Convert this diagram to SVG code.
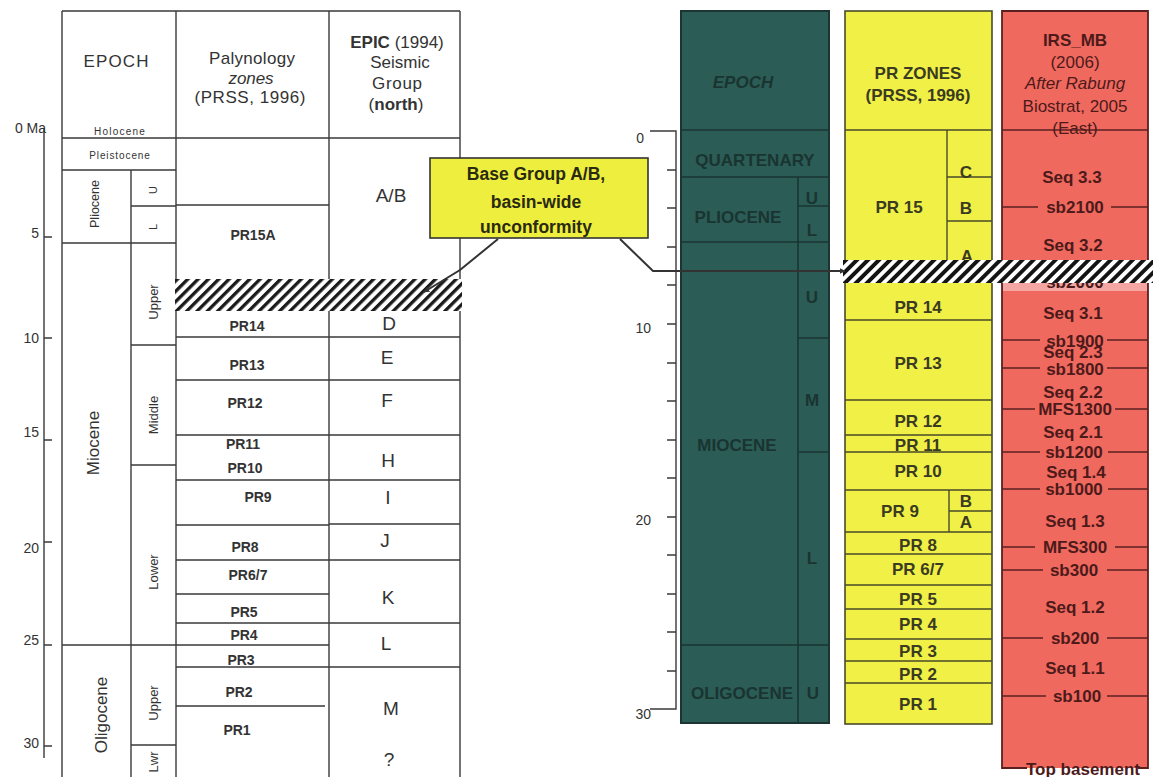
<svg xmlns="http://www.w3.org/2000/svg" width="1155" height="777" viewBox="0 0 1155 777">
<style>
text{font-family:"Liberation Sans",Arial,sans-serif;text-anchor:middle}
.ln{stroke:#3a3a3a;stroke-width:1.4;fill:none}
.tl{fill:#333}
.hd{font-size:17px}
.sm{font-size:10px}
.rot{dominant-baseline:central}
.pz{font-size:14px;font-weight:bold;fill:#333}
.ep{font-size:19px;fill:#333}
.ax{font-size:14px;fill:#333;text-anchor:end}
.tealc{fill:#2b5c56;stroke:#1a3532;stroke-width:2}
.tln{stroke:#1a3532;stroke-width:1.6;fill:none}
.tt{font-size:17px;font-weight:bold;fill:#1a3431}
.yc{fill:#f0f046;stroke:#4a4a2a;stroke-width:1.6}
.yln{stroke:#4a4a2a;stroke-width:1.4;fill:none}
.yt{font-size:17px;font-weight:bold;fill:#3b3b22}
.rc{fill:#f0695f;stroke:#5a2020;stroke-width:1.8}
.rln{stroke:#5a2020;stroke-width:1.4;fill:none}
.rt{font-size:17px;font-weight:bold;fill:#4d1a1a}
.rh{font-size:17px;fill:#4d1a1a}
.cn{stroke:#333;stroke-width:2;fill:none}
</style>
<defs>
<pattern id="hatchL" patternUnits="userSpaceOnUse" width="7.3" height="7.3" patternTransform="rotate(45)">
<rect width="7.3" height="7.3" fill="#fff"/><rect width="3.3" height="7.3" fill="#1a1a1a"/>
</pattern>
<pattern id="hatchR" patternUnits="userSpaceOnUse" width="7.8" height="7.8" patternTransform="rotate(45)">
<rect width="7.8" height="7.8" fill="#fff"/><rect width="3.9" height="7.8" fill="#141414"/>
</pattern>
<marker id="arr" viewBox="0 0 10 10" refX="9" refY="5" markerWidth="6" markerHeight="6" orient="auto" markerUnits="userSpaceOnUse">
<path d="M0,0 L10,5 L0,10 z" fill="#333"/>
</marker>
</defs>
<rect width="1155" height="777" fill="#fff"/>

<!-- Left axis -->
<g id="left-axis">
<path class="ln" d="M44,128 V758 M44,237 H52 M44,338 H52 M44,440 H52 M44,542 H52 M44,645 H52 M44,746 H52"/>
<text class="ax" x="46" y="133">0 Ma</text>
<text class="ax" x="39" y="238">5</text>
<text class="ax" x="39" y="343">10</text>
<text class="ax" x="39" y="437">15</text>
<text class="ax" x="39" y="553">20</text>
<text class="ax" x="39" y="645">25</text>
<text class="ax" x="39" y="748">30</text>
</g>

<!-- Left table -->
<g id="left-table">
<path class="ln" d="M62,11 H460 M62,11 V777 M176,11 V777 M329,11 V777 M460,11 V777 M62,138 H460 M62,170 H176 M131,170 V777 M131,206 H176 M62,243 H176 M131,345 H176 M131,465 H176 M62,645 H329 M131,745 H176"/>
<path class="ln" d="M176,205 H329 M176,337 H460 M176,380 H460 M176,435 H460 M176,480 H460 M176,525 H329 M329,524 H460 M176,560 H460 M176,594 H329 M176,623 H460 M176,667 H460 M176,706 H325"/>
</g>
<g id="left-headers">
<text class="tl hd" x="116" y="67" textLength="65" lengthAdjust="spacing">EPOCH</text>
<text class="tl hd" x="252" y="64" textLength="86" lengthAdjust="spacing">Palynology</text>
<text class="tl hd" x="251" y="84" font-style="italic" textLength="45" lengthAdjust="spacing">zones</text>
<text class="tl hd" x="250" y="103" textLength="111" lengthAdjust="spacing">(PRSS, 1996)</text>
<text class="tl hd" x="397" y="48"><tspan font-weight="bold">EPIC</tspan> (1994)</text>
<text class="tl hd" x="400" y="68">Seismic</text>
<text class="tl hd" x="397" y="89" textLength="50" lengthAdjust="spacing">Group</text>
<text class="tl hd" x="396" y="110">(<tspan font-weight="bold">north</tspan>)</text>
</g>
<g id="left-epochs">
<text class="tl sm" x="120" y="135" letter-spacing="1.2">Holocene</text>
<text class="tl sm" x="120" y="159" letter-spacing="0.9">Pleistocene</text>
<text class="tl rot" font-size="12.5" transform="translate(95,204) rotate(-90)">Pliocene</text>
<text class="tl rot" font-size="11" transform="translate(153,190) rotate(-90)">U</text>
<text class="tl rot" font-size="11" transform="translate(153,227) rotate(-90)">L</text>
<text class="tl rot" font-size="17" transform="translate(93,443) rotate(-90)">Miocene</text>
<text class="tl rot" font-size="13" transform="translate(153,302) rotate(-90)">Upper</text>
<text class="tl rot" font-size="13" transform="translate(153,415) rotate(-90)">Middle</text>
<text class="tl rot" font-size="13" transform="translate(153,572) rotate(-90)">Lower</text>
<text class="tl rot" font-size="17" transform="translate(101,715) rotate(-90)">Oligocene</text>
<text class="tl rot" font-size="13" transform="translate(153,703) rotate(-90)">Upper</text>
<text class="tl rot" font-size="13" transform="translate(153,762) rotate(-90)">Lwr</text>
</g>
<g id="left-zones">
<text class="pz" x="253" y="240">PR15A</text>
<text class="pz" x="247" y="331">PR14</text>
<text class="pz" x="247" y="370">PR13</text>
<text class="pz" x="245" y="408">PR12</text>
<text class="pz" x="243" y="449">PR11</text>
<text class="pz" x="245" y="473">PR10</text>
<text class="pz" x="258" y="502">PR9</text>
<text class="pz" x="245" y="552">PR8</text>
<text class="pz" x="248" y="580">PR6/7</text>
<text class="pz" x="244" y="617">PR5</text>
<text class="pz" x="244" y="640">PR4</text>
<text class="pz" x="241" y="665">PR3</text>
<text class="pz" x="239" y="697">PR2</text>
<text class="pz" x="237" y="735">PR1</text>
</g>
<g id="left-groups">
<text class="ep" x="391" y="202" font-size="20">A/B</text>
<text class="ep" x="389" y="330">D</text>
<text class="ep" x="387" y="364">E</text>
<text class="ep" x="387" y="407">F</text>
<text class="ep" x="388" y="467">H</text>
<text class="ep" x="388" y="504">I</text>
<text class="ep" x="385" y="547">J</text>
<text class="ep" x="388" y="604">K</text>
<text class="ep" x="386" y="650">L</text>
<text class="ep" x="391" y="715">M</text>
<text class="ep" x="389" y="766">?</text>
</g>
<g id="left-unconformity">
<rect x="175" y="279" width="287" height="32" fill="url(#hatchL)"/>
</g>

<!-- Right axis -->
<g id="right-axis">
<path class="ln" d="M650,131 H676 V709 H650 M667,170 H676 M667,208 H676 M667,247 H676 M667,285 H676 M667,324 H676 M667,363 H676 M667,401 H676 M667,440 H676 M667,478 H676 M667,517 H676 M667,555 H676 M667,594 H676 M667,632 H676 M667,671 H676"/>
<text class="ax" x="644" y="143" font-size="15">0</text>
<text class="ax" x="651" y="333" font-size="15">10</text>
<text class="ax" x="651" y="525" font-size="15">20</text>
<text class="ax" x="651" y="719" font-size="15">30</text>
</g>

<!-- Teal epoch column -->
<g id="epoch-column">
<rect class="tealc" x="681" y="11" width="148" height="712"/>
<path class="tln" d="M681,130 H829 M681,177 H829 M798,177 V723 M798,206 H829 M681,242 H829 M798,338 H829 M798,452 H829 M681,645 H829"/>
<text class="tt" x="743" y="88" font-style="italic">EPOCH</text>
<text class="tt" x="755" y="166">QUARTENARY</text>
<text class="tt" x="738" y="223">PLIOCENE</text>
<text class="tt" x="812" y="204">U</text>
<text class="tt" x="812" y="236">L</text>
<text class="tt" x="737" y="451">MIOCENE</text>
<text class="tt" x="812" y="303">U</text>
<text class="tt" x="812" y="406">M</text>
<text class="tt" x="812" y="564">L</text>
<text class="tt" x="742" y="699">OLIGOCENE</text>
<text class="tt" x="813" y="699">U</text>
</g>

<!-- Yellow PR zones column -->
<g id="pr-column">
<rect class="yc" x="845" y="11" width="147" height="713"/>
<path class="yln" d="M845,130 H992 M947,130 V262 M947,177 H992 M947,221 H992 M845,320 H992 M845,400 H992 M845,435 H992 M845,452 H992 M845,490 H992 M949,490 V532 M949,511 H992 M845,532 H992 M845,554 H992 M845,585 H992 M845,609 H992 M845,639 H992 M845,661 H992 M845,683 H992"/>
<text class="yt" x="918" y="79" font-size="18">PR ZONES</text>
<text class="yt" x="918" y="101" font-size="18">(PRSS, 1996)</text>
<text class="yt" x="966" y="178">C</text>
<text class="yt" x="966" y="214">B</text>
<text class="yt" x="967" y="262">A</text>
<text class="yt" x="899" y="213">PR 15</text>
<text class="yt" x="918" y="313">PR 14</text>
<text class="yt" x="918" y="369">PR 13</text>
<text class="yt" x="918" y="427">PR 12</text>
<text class="yt" x="918" y="451">PR 11</text>
<text class="yt" x="918" y="477">PR 10</text>
<text class="yt" x="900" y="517">PR 9</text>
<text class="yt" x="966" y="507" font-size="15">B</text>
<text class="yt" x="966" y="528" font-size="15">A</text>
<text class="yt" x="918" y="551">PR 8</text>
<text class="yt" x="918" y="575">PR 6/7</text>
<text class="yt" x="918" y="605">PR 5</text>
<text class="yt" x="918" y="630">PR 4</text>
<text class="yt" x="918" y="657">PR 3</text>
<text class="yt" x="918" y="680">PR 2</text>
<text class="yt" x="918" y="710">PR 1</text>
</g>

<!-- Red sequence column -->
<g id="seq-column">
<rect x="1025" y="760" width="118" height="17" fill="#fff"/>
<path class="rc" d="M1027,768 H1002 V11 H1148 V768 H1138"/>
<rect x="1003" y="283" width="144" height="8" fill="#f5a6a2"/>
<path class="rln" d="M1002,130 H1148"/>
<path class="rln" d="M1002,207 H1038 M1111,207 H1148 M1002,340 H1040 M1107,340 H1148 M1002,368 H1040 M1107,368 H1148 M1002,409 H1035 M1115,409 H1148 M1002,452 H1040 M1108,452 H1148 M1002,489 H1040 M1108,489 H1148 M1002,547 H1035 M1115,547 H1148 M1002,570 H1043 M1107,570 H1148 M1002,638 H1043 M1107,638 H1148 M1002,696 H1046 M1107,696 H1148"/>
<text class="rt" x="1075" y="46">IRS_MB</text>
<text class="rh" x="1075" y="68">(2006)</text>
<text class="rh" x="1075" y="89" font-style="italic">After Rabung</text>
<text class="rh" x="1075" y="112">Biostrat, 2005</text>
<text class="rh" x="1075" y="134">(East)</text>
<text class="rt" x="1072" y="183">Seq 3.3</text>
<text class="rt" x="1075" y="213">sb2100</text>
<text class="rt" x="1073" y="251">Seq 3.2</text>
<text class="rt" x="1075" y="288">sb2000</text>
<text class="rt" x="1073" y="319">Seq 3.1</text>
<text class="rt" x="1075" y="347">sb1900</text>
<text class="rt" x="1073" y="358">Seq 2.3</text>
<text class="rt" x="1075" y="375">sb1800</text>
<text class="rt" x="1073" y="398">Seq 2.2</text>
<text class="rt" x="1075" y="415">MFS1300</text>
<text class="rt" x="1073" y="438">Seq 2.1</text>
<text class="rt" x="1074" y="458">sb1200</text>
<text class="rt" x="1076" y="478">Seq 1.4</text>
<text class="rt" x="1074" y="495">sb1000</text>
<text class="rt" x="1075" y="527">Seq 1.3</text>
<text class="rt" x="1075" y="553">MFS300</text>
<text class="rt" x="1074" y="576">sb300</text>
<text class="rt" x="1075" y="613">Seq 1.2</text>
<text class="rt" x="1075" y="644">sb200</text>
<text class="rt" x="1075" y="674">Seq 1.1</text>
<text class="rt" x="1077" y="702">sb100</text>
<text class="rt" x="1083" y="775" font-size="16" fill="#222">Top basement</text>
</g>

<g id="right-unconformity">
<rect x="843" y="260" width="310" height="23" fill="url(#hatchR)"/>
</g>

<!-- Connectors -->
<g id="connectors">
<path class="cn" d="M498,239 L460,270 L424,292" marker-end="url(#arr)"/>
<path class="cn" d="M620,239 L653,271 L845,271" marker-end="url(#arr)"/>
</g>

<!-- Callout -->
<g id="callout">
<rect x="430" y="158" width="218" height="80" fill="#eeee3e" stroke="#333" stroke-width="1.6"/>
<text x="536" y="180" font-size="17.5" font-weight="bold" fill="#2a2a12">Base Group A/B,</text>
<text x="536" y="208" font-size="17.5" font-weight="bold" fill="#2a2a12">basin-wide</text>
<text x="536" y="233" font-size="17.5" font-weight="bold" fill="#2a2a12">unconformity</text>
</g>
</svg>
